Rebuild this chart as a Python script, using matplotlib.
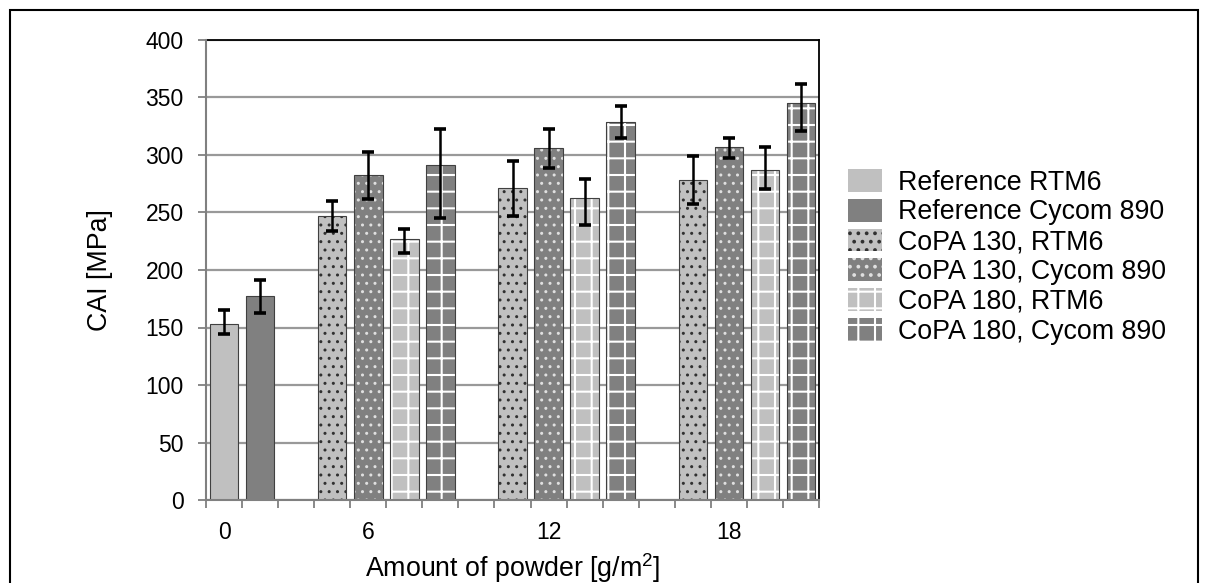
import numpy as np
import matplotlib
matplotlib.use("Agg")
import matplotlib.pyplot as plt
from matplotlib.patches import Rectangle

plt.rcParams['font.family'] = ['Liberation Sans', 'DejaVu Sans']
plt.rcParams['mathtext.fontset'] = 'custom'
plt.rcParams['mathtext.rm'] = 'Liberation Sans'
plt.rcParams['mathtext.it'] = 'Liberation Sans'

# powder amounts (g/m2) and tick labels
powder_labels = ['0', '6', '12', '18']

# CAI values [MPa]
ref_rtm6 = [153]
ref_rtm6_hi = [12]
ref_rtm6_lo = [9]

ref_cycom = [177]
ref_cycom_hi = [14]
ref_cycom_lo = [14]

# series at 6, 12, 18 g/m2
copa130_rtm6 = [247, 271, 278]
copa130_rtm6_hi = [13, 24, 21]
copa130_rtm6_lo = [13, 24, 21]

copa130_cycom = [283, 306, 307]
copa130_cycom_hi = [20, 17, 8]
copa130_cycom_lo = [21, 17, 10]

copa180_rtm6 = [227, 263, 287]
copa180_rtm6_hi = [9, 16, 20]
copa180_rtm6_lo = [12, 24, 17]

copa180_cycom = [291, 329, 345]
copa180_cycom_hi = [32, 14, 17]
copa180_cycom_lo = [46, 14, 24]

series_names = ['Reference RTM6', 'Reference Cycom 890', 'CoPA 130, RTM6',
                'CoPA 130, Cycom 890', 'CoPA 180, RTM6', 'CoPA 180, Cycom 890']

# each bar is its own slot on the category axis (like the Excel original)
group_start = {0: 0, 6: 3, 12: 8, 18: 13}
n_slots = 17
label_slots = [0, 4, 9, 14]

light = '#c0c0c0'
dark = '#808080'
outline = '#404040'

W, H = 1208, 583
fig = plt.figure(figsize=(W / 100, H / 100), dpi=100)
ax = fig.add_axes([206 / W, 1 - 500 / H, (819 - 206) / W, (500 - 40) / H])

ax.set_ylim(0, 400)
ax.set_xlim(-0.5, n_slots - 0.5)
ax.set_yticks(np.arange(0, 401, 50))
ax.grid(axis='y', color='#999999', linewidth=1.6)
ax.set_axisbelow(True)

bw = 0.79


def draw(xs, vals, lo, hi, face, hatch, hcolor, hlw):
    bars = ax.bar(xs, vals, width=bw, color=face, edgecolor=hcolor,
                  hatch=hatch, linewidth=0, zorder=2)
    for p in bars:
        if hasattr(p, 'set_hatch_linewidth'):
            p.set_hatch_linewidth(hlw)
    ax.bar(xs, vals, width=bw, fill=False, edgecolor=outline,
           linewidth=0.8, zorder=3)
    ax.errorbar(xs, vals, yerr=[lo, hi], fmt='none', ecolor='black',
                elinewidth=1.8, capsize=4.3, capthick=2.6, zorder=4)
    return bars[0]


plt.rcParams['hatch.linewidth'] = 1.5
handles = []
handles.append(draw([0], ref_rtm6, ref_rtm6_lo, ref_rtm6_hi, light, None, outline, 1))
handles.append(draw([1], ref_cycom, ref_cycom_lo, ref_cycom_hi, dark, None, outline, 1))

pos = [group_start[p] for p in (6, 12, 18)]
handles.append(draw([p for p in pos], copa130_rtm6, copa130_rtm6_lo, copa130_rtm6_hi,
                    light, '..', '#303030', 1.0))
handles.append(draw([p + 1 for p in pos], copa130_cycom, copa130_cycom_lo, copa130_cycom_hi,
                    dark, '..', '#e0e0e0', 1.0))
handles.append(draw([p + 2 for p in pos], copa180_rtm6, copa180_rtm6_lo, copa180_rtm6_hi,
                    light, '+', 'white', 1.5))
handles.append(draw([p + 3 for p in pos], copa180_cycom, copa180_cycom_lo, copa180_cycom_hi,
                    dark, '+', 'white', 1.5))

# axes styling
for s in ('left', 'bottom'):
    ax.spines[s].set_color('#808080')
    ax.spines[s].set_linewidth(1.5)
    ax.spines[s].set_zorder(5)
for s in ('top', 'right'):
    ax.spines[s].set_color('black')
    ax.spines[s].set_linewidth(1.3)

ax.set_xticks(label_slots)
ax.set_xticklabels(powder_labels)
ax.set_xticks(np.arange(-0.5, n_slots, 1), minor=True)
ax.tick_params(axis='x', which='major', length=0, pad=15, labelsize=16.5)
ax.tick_params(axis='x', which='minor', length=6, width=1.3, color='#808080')
ax.tick_params(axis='y', length=6, width=1.3, color='#808080', pad=10, labelsize=16.5)

ax.set_xlabel('Amount of powder [g/m$^2$]', fontsize=19.3, labelpad=5)
fig.text(100 / W, 1 - 270 / H, 'CAI [MPa]', rotation=90, fontsize=19.3,
         ha='center', va='center')

ax.legend(handles, series_names, loc='upper left',
          bbox_to_anchor=(848 / W, 1 - 169 / H), bbox_transform=fig.transFigure,
          frameon=False, fontsize=19.3, handlelength=1.27, handleheight=0.93,
          handletextpad=0.6, labelspacing=0.12, borderpad=0, borderaxespad=0)

# outer chart border
fig.patches.append(Rectangle((10 / W, -0.05), (1198 - 10) / W, 1.05 - 10 / H,
                             transform=fig.transFigure, fill=False,
                             edgecolor='black', linewidth=1.5))

fig.savefig('out.png', dpi=100)
